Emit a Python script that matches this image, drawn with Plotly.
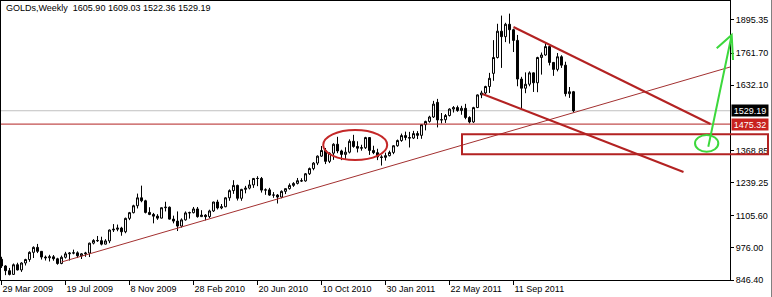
import pandas as pd
import plotly.graph_objects as go

# ---------------- data ----------------
start_week = "2009-03-29"
open_ = [930, 903, 884, 869, 908, 887, 915, 929, 958, 978, 962, 939, 936, 940, 932, 913, 938, 952, 955, 956,
         944, 952, 955, 995, 1006, 1005, 991, 1004, 1048, 1051, 1056, 1041, 1095, 1118, 1146, 1178, 1166, 1119, 1111, 1104,
         1096, 1138, 1140, 1092, 1084, 1064, 1089, 1117, 1118, 1133, 1102, 1108, 1102, 1125, 1161, 1137, 1142, 1178, 1207, 1228,
         1176, 1212, 1217, 1230, 1256, 1256, 1209, 1210, 1189, 1189, 1181, 1204, 1215, 1228, 1236, 1247, 1246, 1275, 1296, 1318,
         1346, 1369, 1325, 1358, 1394, 1367, 1353, 1362, 1406, 1385, 1378, 1380, 1421, 1369, 1360, 1343, 1341, 1348, 1361, 1388,
         1409, 1429, 1421, 1419, 1437, 1430, 1473, 1486, 1504, 1563, 1492, 1493, 1510, 1536, 1542, 1530, 1539, 1502, 1484, 1542,
         1593, 1601, 1627, 1680, 1744, 1850, 1828, 1878, 1856, 1813, 1657, 1620, 1636, 1682, 1642, 1744, 1754, 1788, 1724, 1696,
         1747, 1713, 1598, 1605.90]
high = [940, 906, 895, 913, 916, 918, 932, 962, 982, 992, 963, 945, 948, 947, 936, 945, 960, 959, 969, 962,
        955, 960, 997, 1011, 1024, 1021, 1011, 1050, 1072, 1070, 1061, 1098, 1121, 1150, 1195, 1227, 1170, 1140, 1117, 1112,
        1139, 1162, 1143, 1106, 1123, 1095, 1123, 1122, 1141, 1141, 1128, 1112, 1130, 1162, 1170, 1153, 1180, 1212, 1249, 1231,
        1214, 1226, 1250, 1258, 1265, 1262, 1216, 1218, 1201, 1193, 1208, 1215, 1236, 1241, 1258, 1257, 1278, 1300, 1322, 1349,
        1387, 1379, 1361, 1398, 1424, 1372, 1382, 1414, 1432, 1406, 1392, 1424, 1423, 1388, 1376, 1350, 1360, 1368, 1390, 1413,
        1437, 1445, 1444, 1448, 1447, 1475, 1489, 1509, 1569, 1577, 1520, 1516, 1539, 1548, 1550, 1549, 1557, 1507, 1545, 1595,
        1610, 1630, 1682, 1814, 1880, 1913, 1884, 1921, 1860, 1835, 1666, 1684, 1688, 1684, 1747, 1764, 1803, 1792, 1726, 1762,
        1753, 1727, 1625, 1609.03]
low = [895, 866, 865, 867, 885, 879, 905, 920, 935, 955, 929, 925, 921, 924, 908, 910, 933, 925, 950, 935,
       931, 940, 939, 990, 1000, 986, 990, 995, 1040, 1043, 1025, 1035, 1088, 1115, 1135, 1160, 1115, 1108, 1075, 1089,
       1095, 1123, 1090, 1075, 1044, 1058, 1086, 1094, 1115, 1098, 1101, 1087, 1096, 1121, 1131, 1132, 1140, 1166, 1194, 1167,
       1166, 1196, 1212, 1218, 1225, 1199, 1190, 1186, 1178, 1155, 1176, 1193, 1211, 1222, 1232, 1242, 1243, 1270, 1289, 1310,
       1343, 1314, 1318, 1331, 1358, 1330, 1333, 1357, 1380, 1361, 1368, 1375, 1351, 1354, 1330, 1308, 1328, 1345, 1354, 1384,
       1404, 1410, 1381, 1415, 1415, 1416, 1450, 1481, 1500, 1462, 1478, 1480, 1506, 1522, 1525, 1513, 1495, 1478, 1480, 1540,
       1580, 1593, 1601, 1650, 1740, 1702, 1806, 1800, 1766, 1628, 1535, 1600, 1628, 1605, 1604, 1675, 1751, 1712, 1670, 1688,
       1702, 1587, 1581, 1522.36]
close = [903, 884, 869, 908, 887, 915, 929, 958, 978, 962, 939, 936, 940, 932, 913, 938, 952, 955, 956, 944,
         952, 955, 995, 1006, 1005, 991, 1004, 1048, 1051, 1056, 1041, 1095, 1118, 1146, 1178, 1166, 1119, 1111, 1104, 1096,
         1138, 1140, 1092, 1084, 1064, 1089, 1117, 1118, 1133, 1102, 1108, 1102, 1125, 1161, 1137, 1142, 1178, 1207, 1228, 1176,
         1212, 1217, 1230, 1256, 1256, 1209, 1210, 1189, 1189, 1181, 1204, 1215, 1228, 1236, 1247, 1246, 1275, 1296, 1318, 1346,
         1369, 1325, 1358, 1394, 1367, 1353, 1362, 1406, 1385, 1378, 1380, 1421, 1369, 1360, 1343, 1341, 1348, 1361, 1388, 1409,
         1429, 1421, 1419, 1437, 1430, 1473, 1486, 1504, 1556, 1492, 1493, 1510, 1536, 1542, 1530, 1539, 1502, 1484, 1542, 1593,
         1601, 1627, 1660, 1744, 1850, 1828, 1878, 1856, 1813, 1657, 1620, 1636, 1682, 1642, 1744, 1754, 1788, 1724, 1696, 1747,
         1713, 1598, 1605.90, 1529.19]

date_ticks = ["2009-03-29", "2009-07-19", "2009-11-08", "2010-02-28", "2010-06-20",
              "2010-10-10", "2011-01-30", "2011-05-22", "2011-09-11"]
date_labels = ["29 Mar 2009", "19 Jul 2009", "8 Nov 2009", "28 Feb 2010", "20 Jun 2010",
               "10 Oct 2010", "30 Jan 2011", "22 May 2011", "11 Sep 2011"]
price_ticks = [846.40, 976.00, 1105.60, 1239.25, 1368.85, 1632.10, 1761.70, 1895.35]
title_text = "GOLDs,Weekly\u00a0\u00a01605.90 1609.03 1522.36 1529.19"
bid_price = 1529.19
level_price = 1475.32

# analyst drawings (time / price anchors)
trend_up_x = ["2009-07-12", "2012-11-18"]
trend_up_y = [919.0, 1742.6]
chan_top_x = ["2011-09-11", "2012-08-20 18:00"]
chan_top_y = [1867.0, 1475.8]
chan_bot_x = ["2011-07-18 18:00", "2012-07-04 12:00"]
chan_bot_y = [1596.8, 1282.2]
ellipse_x = ["2010-10-13", "2011-02-02"]
ellipse_y = [1330.6, 1451.6]
zone_y = [1353.6, 1434.2]

# ---------------- layout geometry ----------------
W, H = 772, 297
ML, MR, MT, MB = 1, 42, 1, 17
PW, PH = W - ML - MR, H - MT - MB


def fx(p):  # pixel -> paper x
    return (p - ML) / PW


def fy(p):  # pixel -> paper y
    return (MT + PH - p) / PH


t0 = pd.Timestamp(start_week)
WK = pd.Timedelta(days=7)
dates = pd.date_range(start_week, periods=len(close), freq="7D")
x_range = [t0 - 0.125 * WK, t0 + 182.125 * WK]
y_range = [846.40, 846.40 + PH * 4.034]

FONT = "Liberation Sans, Arial, sans-serif"
RED = "#B32222"

fig = go.Figure(go.Candlestick(
    x=dates, open=open_, high=high, low=low, close=close,
    increasing=dict(line=dict(color="black", width=1), fillcolor="white"),
    decreasing=dict(line=dict(color="black", width=1), fillcolor="black"),
    whiskerwidth=0, hoverinfo="skip", showlegend=False,
))

shapes = [
    dict(type="line", xref="paper", yref="y", x0=0, x1=1, y0=bid_price, y1=bid_price,
         line=dict(color="#C0C0C0", width=1), layer="below"),
    dict(type="line", xref="paper", yref="y", x0=0, x1=1, y0=level_price, y1=level_price,
         line=dict(color=RED, width=1)),
    dict(type="line", xref="x", yref="y", x0=trend_up_x[0], x1=trend_up_x[1], y0=trend_up_y[0], y1=trend_up_y[1],
         line=dict(color="#A33030", width=1)),
    dict(type="line", xref="x", yref="y", x0=chan_top_x[0], x1=chan_top_x[1], y0=chan_top_y[0], y1=chan_top_y[1],
         line=dict(color=RED, width=2)),
    dict(type="line", xref="x", yref="y", x0=chan_bot_x[0], x1=chan_bot_x[1], y0=chan_bot_y[0], y1=chan_bot_y[1],
         line=dict(color=RED, width=2)),
    dict(type="circle", xref="x", yref="y", x0=ellipse_x[0], x1=ellipse_x[1], y0=ellipse_y[0], y1=ellipse_y[1],
         line=dict(color="#C42828", width=2)),
    dict(type="rect", xref="paper", yref="y", x0=fx(462), x1=fx(768), y0=zone_y[0], y1=zone_y[1],
         line=dict(color=RED, width=2)),
    # green freehand circle + arrow
    dict(type="circle", xref="paper", yref="paper", x0=fx(695), x1=fx(718.3), y0=fy(151.7), y1=fy(135),
         line=dict(color="#3CD83C", width=2)),
    dict(type="path", xref="paper", yref="paper",
         path=(f"M {fx(708.3)},{fy(146.7)} L {fx(731.7)},{fy(35)} "
               f"M {fx(716.7)},{fy(48.3)} L {fx(731.7)},{fy(35)} L {fx(733)},{fy(60)}"),
         line=dict(color="#3CD83C", width=2)),
    # window right border
    dict(type="line", xref="paper", yref="paper", x0=fx(771.5), x1=fx(771.5), y0=fy(0), y1=fy(297),
         line=dict(color="#808080", width=1)),
]

annotations = [
    dict(xref="paper", yref="paper", x=fx(4), y=fy(8), xanchor="left", yanchor="middle",
         text=title_text, showarrow=False, font=dict(family=FONT, size=9, color="black")),
    dict(xref="paper", yref="y", x=fx(731), y=bid_price, xanchor="left", yanchor="middle",
         text=f"{bid_price:.2f}", showarrow=False, bgcolor="black", width=36, height=11, borderpad=0,
         font=dict(family=FONT, size=9, color="white")),
    dict(xref="paper", yref="y", x=fx(731), y=level_price, xanchor="left", yanchor="middle",
         text=f"{level_price:.2f}", showarrow=False, bgcolor="#C8221E", width=36, height=11, borderpad=0,
         font=dict(family=FONT, size=9, color="white")),
]

fig.update_layout(
    width=W, height=H, margin=dict(l=ML, r=MR, t=MT, b=MB),
    paper_bgcolor="white", plot_bgcolor="white", showlegend=False,
    font=dict(family=FONT, size=9, color="black"),
    shapes=shapes, annotations=annotations, hovermode=False,
)
fig.update_xaxes(
    type="date", range=x_range, rangeslider_visible=False, showgrid=False, zeroline=False,
    showline=True, linecolor="black", linewidth=1, mirror=True,
    ticks="outside", ticklen=4, tickcolor="black", tickwidth=1,
    tickvals=date_ticks, ticktext=date_labels,
    ticklabelposition="outside right", tickfont=dict(family=FONT, size=9, color="black"),
)
fig.update_yaxes(
    side="right", range=y_range, tickvals=price_ticks, ticktext=[f"{v:.2f}" for v in price_ticks],
    showgrid=False, zeroline=False, showline=True, linecolor="black", linewidth=1, mirror=True,
    ticks="outside", ticklen=3, tickcolor="black", tickfont=dict(family=FONT, size=9, color="black"),
)

fig.write_html("out.html")
